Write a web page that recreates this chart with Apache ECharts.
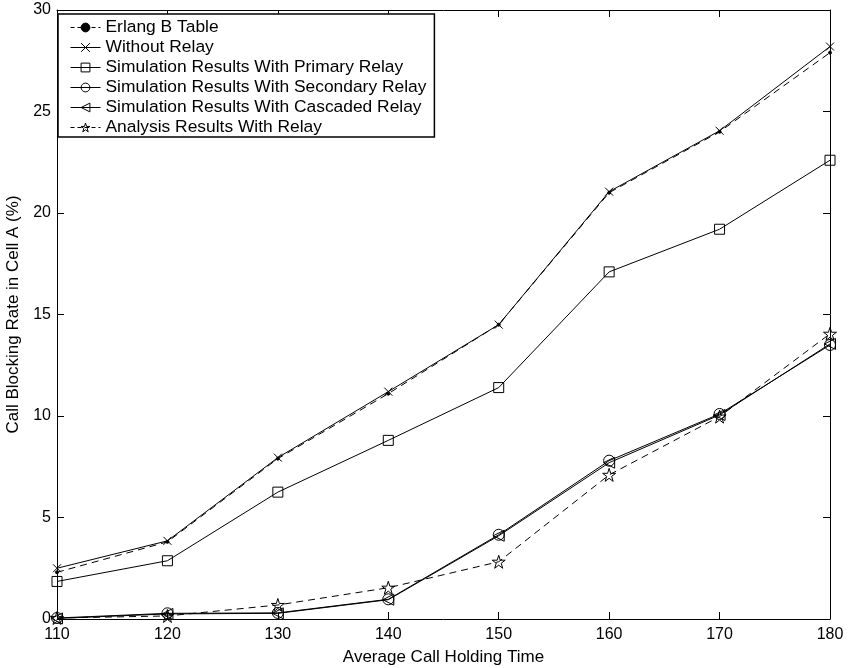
<!DOCTYPE html>
<html>
<head>
<meta charset="utf-8">
<script src="https://cdn.jsdelivr.net/npm/echarts@6/dist/echarts.min.js"></script>
<style>
  html, body { margin: 0; padding: 0; background: #fff; }
  #chart { width: 848px; height: 668px; }
</style>
</head>
<body>
<div id="chart"></div>
<script>
// holding time (x) values
var holdTimes = [110, 120, 130, 140, 150, 160, 170, 180];
// blocking rate (%) per series
var erlangB = [2.3, 3.8, 7.9, 11.1, 14.5, 21.0, 24.0, 27.9];
var withoutRelay = [2.5, 3.85, 7.95, 11.2, 14.5, 21.05, 24.05, 28.2];
var primaryRelay = [1.85, 2.87, 6.25, 8.8, 11.4, 17.1, 19.2, 22.6];
var secondaryRelay = [0.05, 0.28, 0.3, 0.97, 4.15, 7.8, 10.1, 13.5];
var cascadedRelay = [0.03, 0.25, 0.28, 0.95, 4.1, 7.7, 10.05, 13.55];
var analysisRelay = [0.05, 0.15, 0.69, 1.54, 2.82, 7.1, 9.97, 14.05];

var seriesNames = [
  'Erlang B Table',
  'Without Relay',
  'Simulation Results With Primary Relay',
  'Simulation Results With Secondary Relay',
  'Simulation Results With Cascaded Relay',
  'Analysis Results With Relay'
];

var starPath = 'path://M50,0L61.8,36.2L100,36.2L69.1,58.6L80.9,95.1L50,72.7L19.1,95.1L30.9,58.6L0,36.2L38.2,36.2Z';
var crossPath = 'path://M0,0L10,10M10,0L0,10';

function pairs(vals) {
  var out = [];
  for (let i = 0; i < holdTimes.length; i++) {
    out.push([holdTimes[i], vals[i]]);
  }
  return out;
}

function mkSeries(name, vals, symbol, size, dashed, filled, rotate) {
  return {
    name: name,
    type: 'line',
    data: pairs(vals),
    symbol: symbol,
    symbolSize: size,
    symbolRotate: rotate || 0,
    showSymbol: true,
    animation: false,
    lineStyle: { color: '#000', width: 1, type: dashed ? [7, 5] : 'solid' },
    itemStyle: {
      color: filled ? '#000' : 'rgba(255,255,255,0)',
      borderColor: '#000',
      borderWidth: 1
    },
    emphasis: { disabled: true }
  };
}

var series = [
  mkSeries(seriesNames[0], erlangB, 'circle', 3, true, true),
  mkSeries(seriesNames[1], withoutRelay, crossPath, 8, false, false),
  mkSeries(seriesNames[2], primaryRelay, 'rect', 10, false, false),
  mkSeries(seriesNames[3], secondaryRelay, 'circle', 11, false, false),
  mkSeries(seriesNames[4], cascadedRelay, 'triangle', 11, false, false, 90),
  mkSeries(seriesNames[5], analysisRelay, starPath, 13, true, false)
];

// legend entries: small hollow markers like the original
var legendData = seriesNames.map(function (n, i) {
  return {
    name: n,
    itemStyle: {
      color: i === 0 ? '#000' : 'rgba(255,255,255,0)',
      borderColor: '#000',
      borderWidth: 1
    },
    lineStyle: { color: '#000', width: 1, type: (i === 0 || i === 5) ? [4, 3] : 'solid' }
  };
});

var font = 'Liberation Sans, Arial, sans-serif';
var axisLine = { show: true, onZero: false, lineStyle: { color: '#000', width: 1 } };
var tick = { show: true, inside: true, length: 7, lineStyle: { color: '#000' } };

var chart = echarts.init(document.getElementById('chart'));
chart.setOption({
  backgroundColor: '#fff',
  animation: false,
  grid: { left: 57, right: 18, top: 10, bottom: 49, containLabel: false, outerBoundsMode: 'none' },
  legend: {
    data: legendData,
    orient: 'vertical',
    left: 58,
    top: 14,
    backgroundColor: '#fff',
    borderColor: '#000',
    borderWidth: 1.5,
    borderRadius: 0,
    padding: [5, 8, 1, 12],
    itemGap: 3,
    itemWidth: 30,
    itemHeight: 11,
    selectedMode: false,
    textStyle: { fontFamily: font, fontSize: 17.4, color: '#000' }
  },
  xAxis: [{
    type: 'value',
    min: 110,
    max: 180,
    interval: 10,
    name: 'Average Call Holding Time',
    nameLocation: 'middle',
    nameGap: 30,
    nameTextStyle: { fontFamily: font, fontSize: 17, color: '#000' },
    axisLine: axisLine,
    axisTick: tick,
    splitLine: { show: false },
    axisLabel: { fontFamily: font, fontSize: 16, color: '#000', margin: 8 }
  }, {
    type: 'value',
    position: 'top',
    min: 110,
    max: 180,
    interval: 10,
    axisLine: axisLine,
    axisTick: tick,
    splitLine: { show: false },
    axisLabel: { show: false }
  }],
  yAxis: [{
    type: 'value',
    min: 0,
    max: 30,
    interval: 5,
    name: 'Call Blocking Rate in Cell A (%)',
    nameLocation: 'middle',
    nameGap: 20,
    nameTextStyle: { fontFamily: font, fontSize: 17, color: '#000' },
    axisLine: axisLine,
    axisTick: tick,
    splitLine: { show: false },
    axisLabel: { fontFamily: font, fontSize: 16, color: '#000', margin: 6 }
  }, {
    type: 'value',
    position: 'right',
    min: 0,
    max: 30,
    interval: 5,
    axisLine: axisLine,
    axisTick: tick,
    splitLine: { show: false },
    axisLabel: { show: false }
  }],
  series: series
});
</script>
</body>
</html>
